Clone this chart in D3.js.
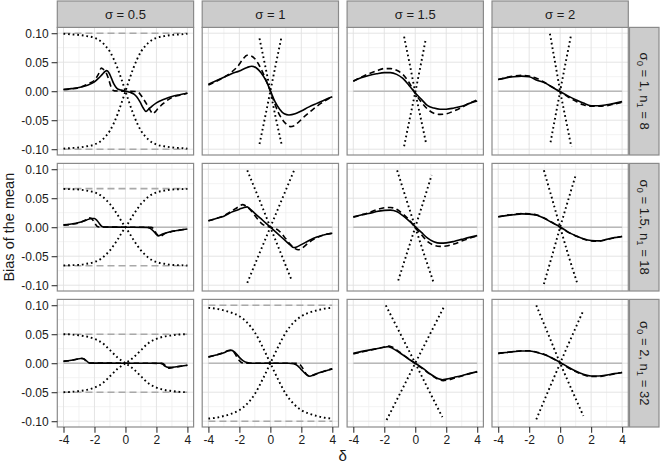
<!DOCTYPE html>
<html><head><meta charset="utf-8">
<script src="https://cdn.jsdelivr.net/npm/d3@7"></script>
<style>
body{margin:0;background:#fff}
svg{display:block}
text{font-family:"Liberation Sans",Arial,Helvetica,sans-serif}
</style>
</head><body>
<svg id="chart" width="660" height="468"></svg>
<script>
// ---------- facet labels and ticks ----------
const colLabels = ["σ = 0.5", "σ = 1", "σ = 1.5", "σ = 2"];
const sigma0Labels = ["1", "1.5", "2"];
const n1Labels = ["8", "18", "32"];
const xTickValues = [-4, -2, 0, 2, 4];
const xTickLabels = ["-4", "-2", "0", "2", "4"];
const yTickValues = [-0.1, -0.05, 0, 0.05, 0.1];
const yTickLabels = ["-0.10", "-0.05", "0.00", "0.05", "0.10"];
const xMinorValues = [-3, -1, 1, 3];
const yMinorValues = [-0.075, -0.025, 0.025, 0.075];
const zeroLine = [[-4, 0], [4, 0]];
// grey dashed asymptotes: [row, col, value]
const boundLines = [[0, 0, 0.1], [1, 0, 0.0665], [2, 0, 0.05], [2, 1, 0.1]];

// ---------- row 1 (sigma0 = 1, n1 = 8) ----------
const r1c1Solid = [[-4,0.003],[-3.5,0.0045],[-3,0.0065],[-2.5,0.010],[-2,0.016],[-1.75,0.022],[-1.5,0.029],[-1.3,0.0345],[-1.2,0.0355],[-1.05,0.031],[-0.9,0.022],[-0.75,0.0125],[-0.55,0.005],[-0.3,0.002],[0,0],[0.3,-0.002],[0.55,-0.005],[0.75,-0.0105],[0.95,-0.019],[1.15,-0.029],[1.33,-0.035],[1.5,-0.031],[1.7,-0.026],[2,-0.020],[2.5,-0.014],[3,-0.009],[3.5,-0.006],[4,-0.0035]];
const r1c1Dashed = [[-4,0.003],[-3.5,0.004],[-3,0.006],[-2.7,0.009],[-2.3,0.014],[-2,0.019],[-1.75,0.029],[-1.55,0.040],[-1.4,0.037],[-1.25,0.032],[-1.1,0.022],[-0.95,0.009],[-0.85,0.003],[-0.7,0.0005],[0,0],[0.7,-0.0005],[0.85,-0.002],[1.0,-0.007],[1.2,-0.015],[1.45,-0.026],[1.6,-0.033],[1.78,-0.039],[1.9,-0.036],[2.1,-0.030],[2.45,-0.021],[3,-0.011],[3.5,-0.007],[4,-0.0035]];
const r1c1DotDown = [[-4,0.099],[-3.5,0.098],[-3,0.097],[-2.5,0.095],[-2,0.092],[-1.5,0.084],[-1.25,0.077],[-1,0.068],[-0.75,0.055],[-0.5,0.039],[-0.25,0.020],[0,0],[0.25,-0.020],[0.5,-0.039],[0.75,-0.055],[1,-0.068],[1.25,-0.077],[1.5,-0.084],[2,-0.092],[2.5,-0.095],[3,-0.097],[3.5,-0.098],[4,-0.099]];
const r1c1DotUp = [[-4,-0.099],[-3.5,-0.098],[-3,-0.097],[-2.5,-0.095],[-2,-0.092],[-1.5,-0.084],[-1.25,-0.077],[-1,-0.068],[-0.75,-0.055],[-0.5,-0.039],[-0.25,-0.020],[0,0],[0.25,0.020],[0.5,0.039],[0.75,0.055],[1,0.068],[1.25,0.077],[1.5,0.084],[2,0.092],[2.5,0.095],[3,0.097],[3.5,0.098],[4,0.099]];

const r1c2Solid = [[-4,0.012],[-3.5,0.018],[-3,0.024],[-2.5,0.030],[-2,0.035],[-1.5,0.041],[-1.2,0.043],[-0.9,0.040],[-0.6,0.032],[-0.3,0.019],[0,0.001],[0.3,-0.018],[0.6,-0.031],[0.9,-0.039],[1.2,-0.041],[1.6,-0.039],[2,-0.034],[2.5,-0.027],[3,-0.021],[3.5,-0.015],[4,-0.0095]];
const r1c2Dashed = [[-4,0.0105],[-3.5,0.017],[-3,0.024],[-2.5,0.033],[-2.1,0.043],[-1.8,0.054],[-1.5,0.062],[-1.25,0.061],[-1,0.056],[-0.75,0.046],[-0.5,0.033],[-0.25,0.017],[0,0],[0.25,-0.019],[0.5,-0.036],[0.75,-0.048],[1,-0.056],[1.3,-0.061],[1.5,-0.060],[1.8,-0.054],[2.1,-0.046],[2.5,-0.037],[3,-0.026],[3.5,-0.017],[4,-0.0095]];
const r1c2DotDown = [[-0.7,0.091],[-0.35,0.046],[0,0],[0.35,-0.046],[0.72,-0.091]];
const r1c2DotUp = [[-0.7,-0.091],[-0.35,-0.046],[0,0],[0.35,0.046],[0.7,0.091]];

const r1c3Solid = [[-4,0.0175],[-3.5,0.023],[-3,0.027],[-2.5,0.030],[-2,0.032],[-1.6,0.032],[-1.2,0.029],[-0.8,0.022],[-0.4,0.010],[0,-0.003],[0.4,-0.014],[0.8,-0.025],[1.2,-0.029],[1.6,-0.031],[2,-0.031],[2.5,-0.029],[3,-0.026],[3.5,-0.021],[4,-0.017]];
const r1c3Dashed = [[-4,0.017],[-3.5,0.024],[-3,0.030],[-2.5,0.035],[-2,0.039],[-1.6,0.039],[-1.2,0.036],[-0.8,0.029],[-0.4,0.015],[0,-0.004],[0.4,-0.019],[0.8,-0.031],[1.2,-0.038],[1.6,-0.040],[2,-0.039],[2.5,-0.034],[3,-0.028],[3.5,-0.021],[4,-0.015]];
const r1c3DotDown = [[-0.72,0.094],[-0.36,0.047],[0,-0.002],[0.36,-0.047],[0.7,-0.090]];
const r1c3DotUp = [[-0.72,-0.095],[-0.36,-0.048],[0,-0.002],[0.36,0.046],[0.68,0.090]];

const r1c4Solid = [[-4,0.020],[-3.5,0.023],[-3,0.025],[-2.5,0.026],[-2,0.025],[-1.5,0.019],[-1,0.0145],[-0.5,0.0068],[0,-0.001],[0.5,-0.008],[1,-0.0145],[1.5,-0.0205],[2,-0.025],[2.5,-0.025],[3,-0.0235],[3.5,-0.021],[4,-0.018]];
const r1c4Dashed = [[-4,0.020],[-3.5,0.0235],[-3,0.026],[-2.5,0.0275],[-2,0.026],[-1.5,0.022],[-1,0.015],[-0.5,0.007],[0,-0.001],[0.5,-0.0095],[1,-0.017],[1.5,-0.0235],[2,-0.026],[2.5,-0.026],[3,-0.025],[3.5,-0.022],[4,-0.019]];
const r1c4DotDown = [[-0.66,0.099],[-0.33,0.050],[0,0],[0.36,-0.048],[0.72,-0.096]];
const r1c4DotUp = [[-0.62,-0.088],[-0.31,-0.044],[0,0],[0.36,0.050],[0.72,0.099]];

// ---------- row 2 (sigma0 = 1.5, n1 = 18) ----------
const r2c1Solid = [[-4,0.004],[-3.5,0.0055],[-3,0.008],[-2.5,0.0125],[-2.2,0.015],[-2.0,0.015],[-1.85,0.012],[-1.7,0.007],[-1.55,0.002],[-1.4,0.0003],[0,0],[1.4,-0.0003],[1.6,-0.002],[1.8,-0.0065],[1.95,-0.011],[2.12,-0.015],[2.3,-0.013],[2.5,-0.011],[3,-0.007],[3.5,-0.005],[4,-0.003]];
const r2c1Dashed = [[-4,0.0035],[-3.5,0.005],[-3,0.0075],[-2.6,0.012],[-2.35,0.016],[-2.2,0.015],[-2.0,0.008],[-1.85,0.002],[-1.7,0.0003],[0,0],[1.65,-0.0003],[1.8,-0.002],[1.95,-0.009],[2.1,-0.014],[2.25,-0.016],[2.45,-0.0125],[3,-0.0075],[3.5,-0.005],[4,-0.003]];
const r2c1DotDown = [[-4,0.066],[-3.5,0.0655],[-3,0.065],[-2.5,0.063],[-2,0.060],[-1.5,0.053],[-1.25,0.047],[-1,0.040],[-0.75,0.031],[-0.5,0.021],[-0.25,0.010],[0,0],[0.25,-0.010],[0.5,-0.021],[0.75,-0.031],[1,-0.040],[1.25,-0.047],[1.5,-0.053],[2,-0.060],[2.5,-0.063],[3,-0.065],[3.5,-0.0655],[4,-0.066]];
const r2c1DotUp = [[-4,-0.066],[-3.5,-0.0655],[-3,-0.065],[-2.5,-0.063],[-2,-0.060],[-1.5,-0.053],[-1.25,-0.047],[-1,-0.040],[-0.75,-0.031],[-0.5,-0.021],[-0.25,-0.010],[0,0],[0.25,0.010],[0.5,0.021],[0.75,0.031],[1,0.040],[1.25,0.047],[1.5,0.053],[2,0.060],[2.5,0.063],[3,0.065],[3.5,0.0655],[4,0.066]];

const r2c2Solid = [[-4,0.011],[-3.5,0.015],[-3,0.019],[-2.5,0.026],[-2,0.031],[-1.7,0.034],[-1.5,0.035],[-1.3,0.031],[-1,0.024],[-0.5,0.012],[0,0],[0.5,-0.012],[1,-0.024],[1.3,-0.031],[1.5,-0.035],[1.7,-0.034],[2,-0.030],[2.5,-0.023],[3,-0.017],[3.5,-0.013],[4,-0.0105]];
const r2c2Dashed = [[-4,0.011],[-3.5,0.015],[-3,0.020],[-2.5,0.028],[-2,0.036],[-1.8,0.039],[-1.6,0.037],[-1.3,0.030],[-1,0.020],[-0.5,0.005],[0,0],[0.5,-0.005],[1,-0.020],[1.3,-0.030],[1.6,-0.037],[1.8,-0.039],[2,-0.037],[2.5,-0.026],[3,-0.018],[3.5,-0.013],[4,-0.0105]];
const r2c2DotDown = [[-1.49,0.098],[-0.75,0.050],[0,0],[0.72,-0.048],[1.4,-0.093]];
const r2c2DotUp = [[-1.49,-0.096],[-0.75,-0.048],[0,0],[0.78,0.050],[1.55,0.099]];

const r2c3Solid = [[-4,0.018],[-3.5,0.021],[-3,0.0235],[-2.5,0.027],[-2,0.029],[-1.6,0.0295],[-1.2,0.027],[-0.8,0.020],[-0.4,0.011],[0,0.001],[0.4,-0.009],[0.8,-0.019],[1.2,-0.025],[1.6,-0.0275],[2,-0.027],[2.5,-0.0245],[3,-0.021],[3.5,-0.0175],[4,-0.0145]];
const r2c3Dashed = [[-4,0.017],[-3.5,0.021],[-3,0.025],[-2.5,0.030],[-2,0.0335],[-1.6,0.034],[-1.2,0.031],[-0.8,0.023],[-0.4,0.013],[0,-0.001],[0.4,-0.013],[0.8,-0.025],[1.2,-0.031],[1.6,-0.033],[2,-0.0325],[2.5,-0.029],[3,-0.024],[3.5,-0.019],[4,-0.015]];
const r2c3DotDown = [[-1.17,0.098],[-0.6,0.050],[0,0],[0.6,-0.049],[1.19,-0.096]];
const r2c3DotUp = [[-1.1,-0.092],[-0.55,-0.046],[0,0],[0.55,0.046],[1.06,0.090]];

const r2c4Solid = [[-4,0.018],[-3.5,0.020],[-3,0.0215],[-2.5,0.023],[-2,0.0225],[-1.5,0.0205],[-1,0.015],[-0.5,0.0075],[0,0.0005],[0.5,-0.008],[1,-0.0145],[1.5,-0.020],[2,-0.023],[2.5,-0.0235],[3,-0.021],[3.5,-0.018],[4,-0.016]];
const r2c4Dashed = [[-4,0.018],[-3.5,0.0205],[-3,0.022],[-2.5,0.0235],[-2,0.023],[-1.5,0.021],[-1,0.0155],[-0.5,0.008],[0,0],[0.5,-0.0085],[1,-0.015],[1.5,-0.0205],[2,-0.0235],[2.5,-0.024],[3,-0.0215],[3.5,-0.0185],[4,-0.016]];
const r2c4DotDown = [[-1.05,0.098],[-0.52,0.049],[0,0],[0.55,-0.050],[1.12,-0.098]];
const r2c4DotUp = [[-1.05,-0.098],[-0.52,-0.049],[0,0],[0.52,0.047],[1.03,0.092]];

// ---------- row 3 (sigma0 = 2, n1 = 32) ----------
const r3c1Solid = [[-4,0.0035],[-3.5,0.005],[-3.2,0.0065],[-2.9,0.0082],[-2.7,0.0075],[-2.55,0.005],[-2.4,0.0015],[-2.25,0.0002],[0,0],[2.25,-0.0002],[2.4,-0.0015],[2.55,-0.005],[2.75,-0.0072],[2.95,-0.0072],[3.3,-0.006],[4,-0.0035]];
const r3c1Dashed = [[-4,0.003],[-3.5,0.0048],[-3.1,0.007],[-2.85,0.0085],[-2.65,0.0065],[-2.5,0.002],[-2.35,0.0003],[0,0],[2.35,-0.0003],[2.5,-0.002],[2.65,-0.0065],[2.85,-0.0085],[3.1,-0.0072],[3.5,-0.0055],[4,-0.0035]];
const r3c1DotDown = [[-4,0.050],[-3.5,0.0495],[-3,0.048],[-2.5,0.046],[-2,0.042],[-1.5,0.035],[-1,0.0225],[-0.5,0.0095],[0,0],[0.5,-0.0095],[1,-0.0225],[1.5,-0.035],[2,-0.042],[2.5,-0.046],[3,-0.048],[3.5,-0.0495],[4,-0.050]];
const r3c1DotUp = [[-4,-0.050],[-3.5,-0.0495],[-3,-0.048],[-2.5,-0.046],[-2,-0.042],[-1.5,-0.035],[-1,-0.0225],[-0.5,-0.0095],[0,0],[0.5,0.0095],[1,0.0225],[1.5,0.035],[2,0.042],[2.5,0.046],[3,0.048],[3.5,0.0495],[4,0.050]];

const r3c2Solid = [[-4,0.011],[-3.5,0.014],[-3,0.018],[-2.75,0.021],[-2.55,0.0225],[-2.3,0.019],[-2.0,0.010],[-1.75,0.004],[-1.5,0.001],[-1.2,0],[1.2,0],[1.5,-0.001],[1.75,-0.004],[2.0,-0.011],[2.3,-0.019],[2.55,-0.0225],[2.8,-0.020],[3.1,-0.017],[3.5,-0.014],[4,-0.010]];
const r3c2Dashed = [[-4,0.0105],[-3.5,0.014],[-3,0.0185],[-2.7,0.022],[-2.5,0.022],[-2.3,0.017],[-2.1,0.008],[-1.9,0.002],[-1.7,0],[1.7,0],[1.9,-0.002],[2.1,-0.009],[2.3,-0.018],[2.5,-0.022],[2.75,-0.021],[3.1,-0.017],[3.5,-0.0135],[4,-0.0095]];
const r3c2DotDown = [[-4,0.0955],[-3.5,0.094],[-3,0.091],[-2.5,0.087],[-2,0.081],[-1.5,0.070],[-1,0.053],[-0.5,0.028],[0,0],[0.5,-0.028],[1,-0.053],[1.5,-0.070],[2,-0.081],[2.5,-0.087],[3,-0.091],[3.5,-0.094],[4,-0.0955]];
const r3c2DotUp = [[-4,-0.0955],[-3.5,-0.094],[-3,-0.091],[-2.5,-0.087],[-2,-0.081],[-1.5,-0.070],[-1,-0.053],[-0.5,-0.028],[0,0],[0.5,0.028],[1,0.053],[1.5,0.070],[2,0.081],[2.5,0.087],[3,0.091],[3.5,0.094],[4,0.0955]];

const r3c3Solid = [[-4,0.017],[-3.5,0.020],[-3,0.0225],[-2.5,0.025],[-2,0.0275],[-1.75,0.0285],[-1.5,0.026],[-1,0.018],[-0.5,0.0085],[0,0],[0.5,-0.009],[1,-0.019],[1.5,-0.027],[1.75,-0.0285],[2,-0.0275],[2.5,-0.0245],[3,-0.0215],[3.5,-0.018],[4,-0.0145]];
const r3c3Dashed = [[-4,0.016],[-3.5,0.019],[-3,0.022],[-2.5,0.025],[-2,0.028],[-1.8,0.030],[-1.5,0.028],[-1,0.019],[-0.5,0.009],[0,-0.001],[0.5,-0.010],[1,-0.020],[1.5,-0.028],[1.8,-0.030],[2,-0.0295],[2.5,-0.026],[3,-0.022],[3.5,-0.018],[4,-0.015]];
const r3c3DotDown = [[-1.9,0.0997],[-0.95,0.050],[0,0],[0.9,-0.048],[1.75,-0.093]];
const r3c3DotUp = [[-1.85,-0.098],[-0.92,-0.049],[0,0],[0.95,0.050],[1.9,0.0997]];

const r3c4Solid = [[-4,0.017],[-3.5,0.0185],[-3,0.020],[-2.5,0.021],[-2,0.021],[-1.5,0.0185],[-1,0.0145],[-0.5,0.0085],[0,0.0015],[0.5,-0.0065],[1,-0.0135],[1.5,-0.019],[2,-0.022],[2.5,-0.022],[3,-0.0205],[3.5,-0.018],[4,-0.016]];
const r3c4Dashed = [[-4,0.017],[-3.5,0.0185],[-3,0.020],[-2.5,0.0215],[-2,0.0215],[-1.5,0.019],[-1,0.015],[-0.5,0.0085],[0,0.001],[0.5,-0.0075],[1,-0.0145],[1.5,-0.020],[2,-0.023],[2.5,-0.023],[3,-0.021],[3.5,-0.0185],[4,-0.016]];
const r3c4DotDown = [[-1.54,0.0997],[-0.77,0.050],[0,0],[0.75,-0.046],[1.5,-0.091]];
const r3c4DotUp = [[-1.54,-0.097],[-0.77,-0.048],[0,0],[0.75,0.046],[1.5,0.091]];

// ---------- panel table built from the named arrays ----------
const panels = [
  {row:0,col:0,solid:r1c1Solid,dashed:r1c1Dashed,dots:[r1c1DotDown,r1c1DotUp]},
  {row:0,col:1,solid:r1c2Solid,dashed:r1c2Dashed,dots:[r1c2DotDown,r1c2DotUp]},
  {row:0,col:2,solid:r1c3Solid,dashed:r1c3Dashed,dots:[r1c3DotDown,r1c3DotUp]},
  {row:0,col:3,solid:r1c4Solid,dashed:r1c4Dashed,dots:[r1c4DotDown,r1c4DotUp]},
  {row:1,col:0,solid:r2c1Solid,dashed:r2c1Dashed,dots:[r2c1DotDown,r2c1DotUp]},
  {row:1,col:1,solid:r2c2Solid,dashed:r2c2Dashed,dots:[r2c2DotDown,r2c2DotUp]},
  {row:1,col:2,solid:r2c3Solid,dashed:r2c3Dashed,dots:[r2c3DotDown,r2c3DotUp]},
  {row:1,col:3,solid:r2c4Solid,dashed:r2c4Dashed,dots:[r2c4DotDown,r2c4DotUp]},
  {row:2,col:0,solid:r3c1Solid,dashed:r3c1Dashed,dots:[r3c1DotDown,r3c1DotUp]},
  {row:2,col:1,solid:r3c2Solid,dashed:r3c2Dashed,dots:[r3c2DotDown,r3c2DotUp]},
  {row:2,col:2,solid:r3c3Solid,dashed:r3c3Dashed,dots:[r3c3DotDown,r3c3DotUp]},
  {row:2,col:3,solid:r3c4Solid,dashed:r3c4Dashed,dots:[r3c4DotDown,r3c4DotUp]}
];

// ---------- layout ----------
const LAY = {left:57.3, colPitch:144.9, pw:136.3, top:27.4, rowPitch:136, ph:127.6, stripTop:1, rStripW:29.5};
const svg = d3.select("#chart");
svg.append("rect").attr("width",660).attr("height",468).attr("fill","#fff");

const xScales = d3.range(4).map(c => d3.scaleLinear().domain([-4.4,4.4])
  .range([LAY.left + c*LAY.colPitch, LAY.left + c*LAY.colPitch + LAY.pw]));
const yScales = d3.range(3).map(r => d3.scaleLinear().domain([-0.11,0.11])
  .range([LAY.top + r*LAY.rowPitch + LAY.ph, LAY.top + r*LAY.rowPitch]));

const defs = svg.append("defs");
const TEXT = "#1a1a1a";

panels.forEach((p,i) => {
  const x = xScales[p.col], y = yScales[p.row];
  const x0 = x.range()[0], y0 = y.range()[1];
  defs.append("clipPath").attr("id","clip"+i).append("rect")
    .attr("x",x0).attr("y",y0).attr("width",LAY.pw).attr("height",LAY.ph);
  const g = svg.append("g");
  g.append("rect").attr("x",x0).attr("y",y0).attr("width",LAY.pw).attr("height",LAY.ph).attr("fill","#fff");
  // minor grid
  yMinorValues.forEach(v => g.append("line").attr("x1",x0).attr("x2",x0+LAY.pw)
    .attr("y1",y(v)).attr("y2",y(v)).attr("stroke","#efefef").attr("stroke-width",0.8));
  xMinorValues.forEach(v => g.append("line").attr("y1",y0).attr("y2",y0+LAY.ph)
    .attr("x1",x(v)).attr("x2",x(v)).attr("stroke","#efefef").attr("stroke-width",0.8));
  // major grid
  yTickValues.forEach(v => g.append("line").attr("x1",x0).attr("x2",x0+LAY.pw)
    .attr("y1",y(v)).attr("y2",y(v)).attr("stroke","#e1e1e1").attr("stroke-width",0.9));
  xTickValues.forEach(v => g.append("line").attr("y1",y0).attr("y2",y0+LAY.ph)
    .attr("x1",x(v)).attr("x2",x(v)).attr("stroke","#e1e1e1").attr("stroke-width",0.9));

  const clipG = g.append("g").attr("clip-path","url(#clip"+i+")");
  const line = d3.line().x(d => x(d[0])).y(d => y(d[1])).curve(d3.curveMonotoneX);
  const straight = d3.line().x(d => x(d[0])).y(d => y(d[1]));
  // zero reference
  clipG.append("path").attr("d",straight(zeroLine)).attr("fill","none")
    .attr("stroke","#b8b8b8").attr("stroke-width",1.6);
  // asymptotes
  boundLines.filter(b => b[0]===p.row && b[1]===p.col).forEach(b => {
    [b[2], -b[2]].forEach(v => clipG.append("path")
      .attr("d",straight([[-4,v],[4,v]])).attr("fill","none")
      .attr("stroke","#a9a9a9").attr("stroke-width",1.6).attr("stroke-dasharray","7,4"));
  });
  // dotted
  p.dots.forEach(dd => clipG.append("path").attr("d",line(dd)).attr("fill","none")
    .attr("stroke","#000").attr("stroke-width",1.9).attr("stroke-dasharray","1.7,2.9"));
  // dashed
  clipG.append("path").attr("d",line(p.dashed)).attr("fill","none")
    .attr("stroke","#000").attr("stroke-width",1.6).attr("stroke-dasharray","5.5,3.5");
  // solid
  clipG.append("path").attr("d",line(p.solid)).attr("fill","none")
    .attr("stroke","#000").attr("stroke-width",1.6);
  // border
  g.append("rect").attr("x",x0).attr("y",y0).attr("width",LAY.pw).attr("height",LAY.ph)
    .attr("fill","none").attr("stroke","#8a8a8a").attr("stroke-width",1.2);
});

// top strips
colLabels.forEach((lab,c) => {
  const x0 = xScales[c].range()[0];
  svg.append("rect").attr("x",x0).attr("y",LAY.stripTop).attr("width",LAY.pw)
    .attr("height",LAY.top-LAY.stripTop).attr("fill","#cccccc").attr("stroke","#8a8a8a").attr("stroke-width",1.2);
  svg.append("text").attr("x",x0+LAY.pw/2).attr("y",(LAY.stripTop+LAY.top)/2).attr("dy","0.36em")
    .attr("text-anchor","middle").attr("font-size",13).attr("fill",TEXT).text(lab);
});
// right strips
sigma0Labels.forEach((s0,r) => {
  const xs = xScales[3].range()[1] + 1.2;
  const y0 = yScales[r].range()[1];
  svg.append("rect").attr("x",xs).attr("y",y0).attr("width",LAY.rStripW).attr("height",LAY.ph)
    .attr("fill","#cccccc").attr("stroke","#8a8a8a").attr("stroke-width",1.2);
  const t = svg.append("text").attr("transform",`translate(${xs+LAY.rStripW/2},${y0+LAY.ph/2}) rotate(90)`)
    .attr("text-anchor","middle").attr("dy","0.36em").attr("font-size",13).attr("fill",TEXT);
  t.append("tspan").text("σ");
  t.append("tspan").attr("font-size",9.5).attr("dy","3").text("0");
  t.append("tspan").attr("dy","-3").text(" = " + s0 + ", n");
  t.append("tspan").attr("font-size",9.5).attr("dy","3").text("1");
  t.append("tspan").attr("dy","-3").text(" = " + n1Labels[r]);
});

// axes
d3.range(3).forEach(r => {
  const ax = d3.axisLeft(yScales[r]).tickValues(yTickValues)
    .tickFormat((d,i) => yTickLabels[i]).tickSize(5.7).tickPadding(3);
  const g = svg.append("g").attr("transform",`translate(${LAY.left},0)`).call(ax);
  g.select(".domain").remove();
  g.selectAll(".tick line").attr("stroke","#333").attr("stroke-width",1.1);
  g.selectAll(".tick text").attr("font-size",12).attr("fill",TEXT)
    .attr("font-family",'"Liberation Sans",Arial,sans-serif');
});
d3.range(4).forEach(c => {
  const ax = d3.axisBottom(xScales[c]).tickValues(xTickValues)
    .tickFormat((d,i) => xTickLabels[i]).tickSize(5.7).tickPadding(3);
  const g = svg.append("g").attr("transform",`translate(0,${yScales[2].range()[0]})`).call(ax);
  g.select(".domain").remove();
  g.selectAll(".tick line").attr("stroke","#333").attr("stroke-width",1.1);
  g.selectAll(".tick text").attr("font-size",12).attr("fill",TEXT)
    .attr("font-family",'"Liberation Sans",Arial,sans-serif');
});

// axis titles
const panelsLeft = LAY.left, panelsRight = xScales[3].range()[1];
svg.append("text").attr("x",(panelsLeft+panelsRight)/2).attr("y",461)
  .attr("text-anchor","middle").attr("font-size",15).attr("fill",TEXT).text("δ");
svg.append("text").attr("transform",`translate(14,${(LAY.top + yScales[2].range()[0])/2}) rotate(-90)`)
  .attr("text-anchor","middle").attr("font-size",14.5).attr("fill",TEXT).text("Bias of the mean");
</script>
</body></html>
